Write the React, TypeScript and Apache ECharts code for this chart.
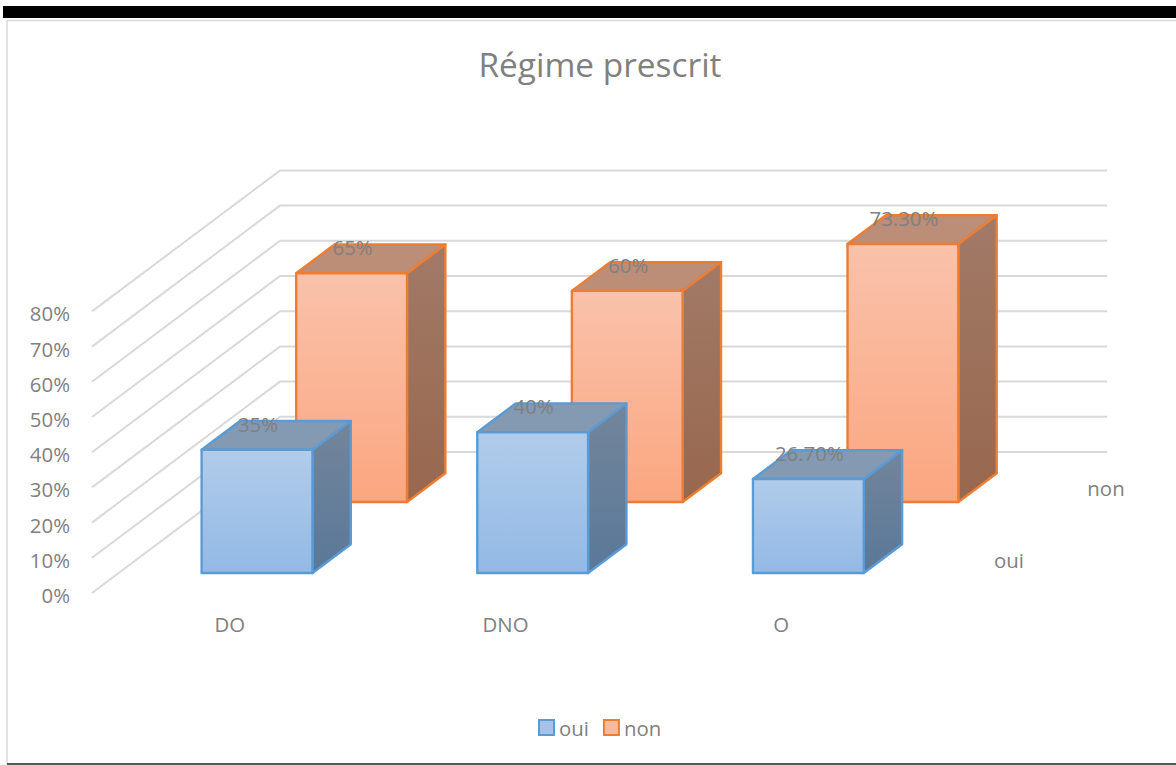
import React, { useEffect, useRef } from "react";
import * as echarts from "echarts";

const categories = ["DO", "DNO", "O"];
const ouiValues = [35, 40, 26.7];
const nonValues = [65, 60, 73.3];
const ouiLabels = ["35%", "40%", "26.70%"];
const nonLabels = ["65%", "60%", "73.30%"];
const yTicks = [0, 10, 20, 30, 40, 50, 60, 70, 80];

const FONT = '"Open Sans", sans-serif';
const GREY = "#808080";
const TEXT_SIZE = 20.4;

// Oblique projection of the floor: full depth of the chart box in pixels.
const DEPTH_X = 188;
const DEPTH_Y = 141;
const BAR_DEPTH = 0.204;
const BAR_WIDTH_RATIO = 0.402;

type Palette = {
  stroke: string;
  frontTop: string;
  frontBottom: string;
  top: string;
  sideTop: string;
  sideBottom: string;
};

const bluePalette: Palette = {
  stroke: "#5B9BD5",
  frontTop: "#B1CCEA",
  frontBottom: "#93B9E5",
  top: "#8499B2",
  sideTop: "#73859A",
  sideBottom: "#5A7899",
};

const orangePalette: Palette = {
  stroke: "#ED7D31",
  frontTop: "#F9C2AB",
  frontBottom: "#FBA680",
  top: "#BC8D77",
  sideTop: "#A17A67",
  sideBottom: "#98674E",
};

const vGrad = (a: string, b: string) =>
  new echarts.graphic.LinearGradient(0, 0, 0, 1, [
    { offset: 0, color: a },
    { offset: 1, color: b },
  ]);

// Draws one extruded bar at the given depth along the floor of the box.
const boxRenderer =
  (row: number, pal: Palette, labels: string[]) => (params: any, api: any) => {
    const idx = api.value(0);
    const base = api.coord([idx, 0]);
    const tip = api.coord([idx, api.value(1)]);
    const w = api.size([1, 0])[0] * BAR_WIDTH_RATIO;
    const shiftX = DEPTH_X * row;
    const shiftY = DEPTH_Y * row;
    const x0 = base[0] + shiftX - w / 2 + 0.5;
    const x1 = x0 + w;
    const yb = base[1] - shiftY;
    const yt = tip[1] - shiftY;
    const dx = DEPTH_X * BAR_DEPTH;
    const dy = DEPTH_Y * BAR_DEPTH;
    const line = { stroke: pal.stroke, lineWidth: 2.4, lineJoin: "round" };
    return {
      type: "group",
      children: [
        {
          type: "polygon",
          shape: { points: [[x1, yt], [x1 + dx, yt - dy], [x1 + dx, yb - dy], [x1, yb]] },
          style: { fill: vGrad(pal.sideTop, pal.sideBottom), ...line },
        },
        {
          type: "polygon",
          shape: { points: [[x0, yt], [x0 + dx, yt - dy], [x1 + dx, yt - dy], [x1, yt]] },
          style: { fill: pal.top, ...line },
        },
        {
          type: "rect",
          shape: { x: x0, y: yt, width: w, height: yb - yt },
          style: { fill: vGrad(pal.frontTop, pal.frontBottom), ...line },
        },
        {
          type: "text",
          x: (x0 + x1) / 2 + 1,
          y: yt - 26,
          style: {
            text: labels[idx],
            fill: GREY,
            font: `${TEXT_SIZE}px ${FONT}`,
            align: "center",
            verticalAlign: "middle",
          },
        },
      ],
    };
  };

// Gridline that runs along the side wall and then across the back wall.
const wallRenderer = (params: any, api: any) => {
  const cs = params.coordSys;
  const y = api.coord([0, api.value(1)])[1];
  return {
    type: "polyline",
    shape: {
      points: [
        [cs.x, y],
        [cs.x + DEPTH_X, y - DEPTH_Y],
        [cs.x + DEPTH_X + cs.width, y - DEPTH_Y],
      ],
    },
    style: { fill: "none", stroke: "#D9D9D9", lineWidth: 2 },
  };
};

const rowData = (values: number[]) => values.map((v, i) => [i, v]);

export default function App() {
  const ref = useRef<HTMLDivElement>(null);
  useEffect(() => {
    const chart = echarts.init(ref.current!, null, { renderer: "svg" });
    chart.setOption({
      animation: false,
      backgroundColor: "#fff",
      grid: { left: 92, top: 311.4, width: 827, height: 281.6 },
      xAxis: {
        type: "category",
        data: categories,
        axisLine: { show: false },
        axisTick: { show: false },
        axisLabel: { fontFamily: FONT, fontSize: TEXT_SIZE, color: GREY, margin: 21 },
      },
      yAxis: {
        type: "value",
        min: 0,
        max: 80,
        interval: 10,
        splitLine: { show: false },
        axisLine: { show: false },
        axisTick: { show: false },
        axisLabel: {
          formatter: (v: number) => `{t|${v}%}`,
          margin: 22,
          rich: {
            t: {
              fontFamily: FONT,
              fontSize: TEXT_SIZE,
              color: GREY,
              padding: [4, 0, 0, 0],
            },
          },
        },
      },
      legend: {
        left: 538,
        top: 717.5,
        padding: 0,
        icon: "rect",
        data: ["oui", "non"],
        itemWidth: 15,
        itemHeight: 15,
        itemGap: 14,
        textStyle: { fontFamily: FONT, fontSize: TEXT_SIZE, color: GREY },
      },
      graphic: [
        { type: "rect", silent: true, shape: { x: 3, y: 6, width: 1173, height: 12 }, style: { fill: "#000" } },
        { type: "line", silent: true, shape: { x1: 7, y1: 20.5, x2: 1176, y2: 20.5 }, style: { stroke: "#D9D9D9", lineWidth: 1.5 } },
        { type: "line", silent: true, shape: { x1: 7, y1: 20, x2: 7, y2: 764 }, style: { stroke: "#D9D9D9", lineWidth: 1.5 } },
        { type: "line", silent: true, shape: { x1: 7, y1: 764, x2: 1176, y2: 764 }, style: { stroke: "#222", lineWidth: 1.5 } },
        { type: "text", silent: true, x: 600, y: 64, style: { text: "Régime prescrit", fill: GREY, font: `33.4px ${FONT}`, align: "center", verticalAlign: "middle" } },
        { type: "text", silent: true, x: 1106, y: 488, style: { text: "non", fill: GREY, font: `${TEXT_SIZE}px ${FONT}`, align: "center", verticalAlign: "middle" } },
        { type: "text", silent: true, x: 1009, y: 560, style: { text: "oui", fill: GREY, font: `${TEXT_SIZE}px ${FONT}`, align: "center", verticalAlign: "middle" } },
      ],
      series: [
        {
          type: "custom",
          name: "walls",
          silent: true,
          z: 1,
          renderItem: wallRenderer,
          data: yTicks.map((v) => [0, v]),
        },
        {
          type: "custom",
          name: "non",
          z: 2,
          renderItem: boxRenderer(0.645, orangePalette, nonLabels),
          itemStyle: { color: "#F9B99C", borderColor: orangePalette.stroke, borderWidth: 2 },
          data: rowData(nonValues),
        },
        {
          type: "custom",
          name: "oui",
          z: 3,
          renderItem: boxRenderer(0.142, bluePalette, ouiLabels),
          itemStyle: { color: "#A5C3E8", borderColor: bluePalette.stroke, borderWidth: 2 },
          data: rowData(ouiValues),
        },
      ],
    });
    return () => chart.dispose();
  }, []);
  return (
    <div
      ref={ref}
      style={{ position: "fixed", left: 0, top: 0, width: 1176, height: 765 }}
    />
  );
}
